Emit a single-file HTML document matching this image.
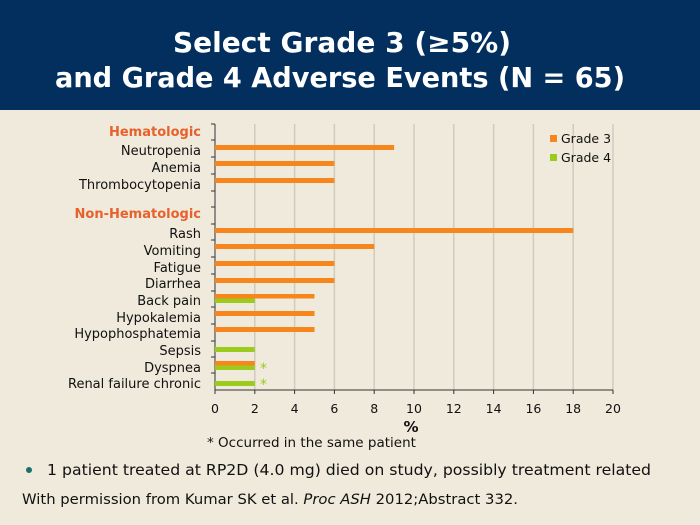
<!DOCTYPE html>
<html><head><meta charset="utf-8"><style>
html,body{margin:0;padding:0;width:700px;height:525px;overflow:hidden;background:#efeadb}
svg{display:block}
text{font-family:"DejaVu Sans","Liberation Sans",sans-serif}
</style></head><body>
<svg width="700" height="525" viewBox="0 0 700 525">
<rect x="0" y="0" width="700" height="525" fill="#efeadb"/>
<rect x="0" y="0" width="700" height="110" fill="#022f5e"/>
<text x="342" y="52" text-anchor="middle" fill="#fff" font-weight="bold" font-size="28" textLength="338" lengthAdjust="spacingAndGlyphs">Select Grade 3 (≥5%)</text>
<text x="340" y="87" text-anchor="middle" fill="#fff" font-weight="bold" font-size="28" textLength="570" lengthAdjust="spacingAndGlyphs">and Grade 4 Adverse Events (N = 65)</text>
<g stroke="#cfcbbf" stroke-width="1.5">
<line x1="254.8" y1="124" x2="254.8" y2="390"/><line x1="294.6" y1="124" x2="294.6" y2="390"/>
<line x1="334.4" y1="124" x2="334.4" y2="390"/><line x1="374.2" y1="124" x2="374.2" y2="390"/>
<line x1="414" y1="124" x2="414" y2="390"/><line x1="453.8" y1="124" x2="453.8" y2="390"/>
<line x1="493.6" y1="124" x2="493.6" y2="390"/><line x1="533.4" y1="124" x2="533.4" y2="390"/>
<line x1="573.2" y1="124" x2="573.2" y2="390"/><line x1="613" y1="124" x2="613" y2="390"/>
</g>
<g stroke="#333" stroke-width="1">
<line x1="215" y1="124" x2="215" y2="390"/><line x1="215" y1="390" x2="613" y2="390"/>
<line x1="211" y1="124" x2="215" y2="124"/><line x1="211" y1="140" x2="215" y2="140"/><line x1="211" y1="157" x2="215" y2="157"/><line x1="211" y1="174" x2="215" y2="174"/><line x1="211" y1="191" x2="215" y2="191"/><line x1="211" y1="207" x2="215" y2="207"/><line x1="211" y1="224" x2="215" y2="224"/><line x1="211" y1="240" x2="215" y2="240"/><line x1="211" y1="257" x2="215" y2="257"/><line x1="211" y1="274" x2="215" y2="274"/><line x1="211" y1="291" x2="215" y2="291"/><line x1="211" y1="307" x2="215" y2="307"/><line x1="211" y1="324" x2="215" y2="324"/><line x1="211" y1="341" x2="215" y2="341"/><line x1="211" y1="357" x2="215" y2="357"/><line x1="211" y1="373" x2="215" y2="373"/>
<line x1="215" y1="390" x2="215" y2="394"/><line x1="254.8" y1="390" x2="254.8" y2="394"/><line x1="294.6" y1="390" x2="294.6" y2="394"/><line x1="334.4" y1="390" x2="334.4" y2="394"/><line x1="374.2" y1="390" x2="374.2" y2="394"/><line x1="414" y1="390" x2="414" y2="394"/><line x1="453.8" y1="390" x2="453.8" y2="394"/><line x1="493.6" y1="390" x2="493.6" y2="394"/><line x1="533.4" y1="390" x2="533.4" y2="394"/><line x1="573.2" y1="390" x2="573.2" y2="394"/><line x1="613" y1="390" x2="613" y2="394"/>
</g>
<g fill="#f7871c">
<rect x="215" y="145" width="179.1" height="5"/>
<rect x="215" y="161" width="119.4" height="5"/>
<rect x="215" y="178" width="119.4" height="5"/>
<rect x="215" y="228" width="358.2" height="5"/>
<rect x="215" y="244" width="159.2" height="5"/>
<rect x="215" y="261" width="119.4" height="5"/>
<rect x="215" y="278" width="119.4" height="5"/>
<rect x="215" y="294" width="99.5" height="4.5"/>
<rect x="215" y="311" width="99.5" height="5"/>
<rect x="215" y="327" width="99.5" height="5"/>
<rect x="215" y="361" width="39.8" height="4.5"/>
</g>
<g fill="#9bcb1c">
<rect x="215" y="298.5" width="39.8" height="4.5"/>
<rect x="215" y="347" width="39.8" height="5"/>
<rect x="215" y="365.5" width="39.8" height="4.5"/>
<rect x="215" y="381" width="39.8" height="5"/>
</g>
<text x="260" y="373" fill="#9bcb1c" font-size="14">*</text>
<text x="260" y="389" fill="#9bcb1c" font-size="14">*</text>
<g font-size="13" fill="#111" text-anchor="end">
<text x="201" y="136" fill="#e8602c" font-weight="bold">Hematologic</text>
<text x="201" y="155">Neutropenia</text>
<text x="201" y="172">Anemia</text>
<text x="201" y="189">Thrombocytopenia</text>
<text x="201" y="218" fill="#e8602c" font-weight="bold">Non-Hematologic</text>
<text x="201" y="238">Rash</text>
<text x="201" y="255">Vomiting</text>
<text x="201" y="272">Fatigue</text>
<text x="201" y="288">Diarrhea</text>
<text x="201" y="305">Back pain</text>
<text x="201" y="322">Hypokalemia</text>
<text x="201" y="338">Hypophosphatemia</text>
<text x="201" y="355">Sepsis</text>
<text x="201" y="372">Dyspnea</text>
<text x="201" y="388">Renal failure chronic</text>
</g>
<g font-size="12.5" fill="#111" text-anchor="middle">
<text x="215" y="413">0</text><text x="254.8" y="413">2</text><text x="294.6" y="413">4</text><text x="334.4" y="413">6</text><text x="374.2" y="413">8</text><text x="414" y="413">10</text><text x="453.8" y="413">12</text><text x="493.6" y="413">14</text><text x="533.4" y="413">16</text><text x="573.2" y="413">18</text><text x="613" y="413">20</text>
<text x="411" y="432" font-weight="bold" font-size="15">%</text>
</g>
<text x="207" y="447" font-size="13.5" fill="#111">* Occurred in the same patient</text>
<rect x="550" y="135" width="7" height="7" fill="#f7871c"/>
<text x="561" y="143" font-size="12.5" fill="#111">Grade 3</text>
<rect x="550" y="154" width="7" height="7" fill="#9bcb1c"/>
<text x="561" y="162" font-size="12.5" fill="#111">Grade 4</text>
<circle cx="29" cy="470" r="3" fill="#1d6f6a"/>
<text x="47" y="475" font-size="15.5" fill="#111" textLength="604" lengthAdjust="spacingAndGlyphs">1 patient treated at RP2D (4.0 mg) died on study, possibly treatment related</text>
<text x="22" y="504" font-size="14.5" fill="#111" textLength="496" lengthAdjust="spacingAndGlyphs">With permission from Kumar SK et al. <tspan font-style="italic">Proc ASH</tspan> 2012;Abstract 332.</text>
</svg>
</body></html>
